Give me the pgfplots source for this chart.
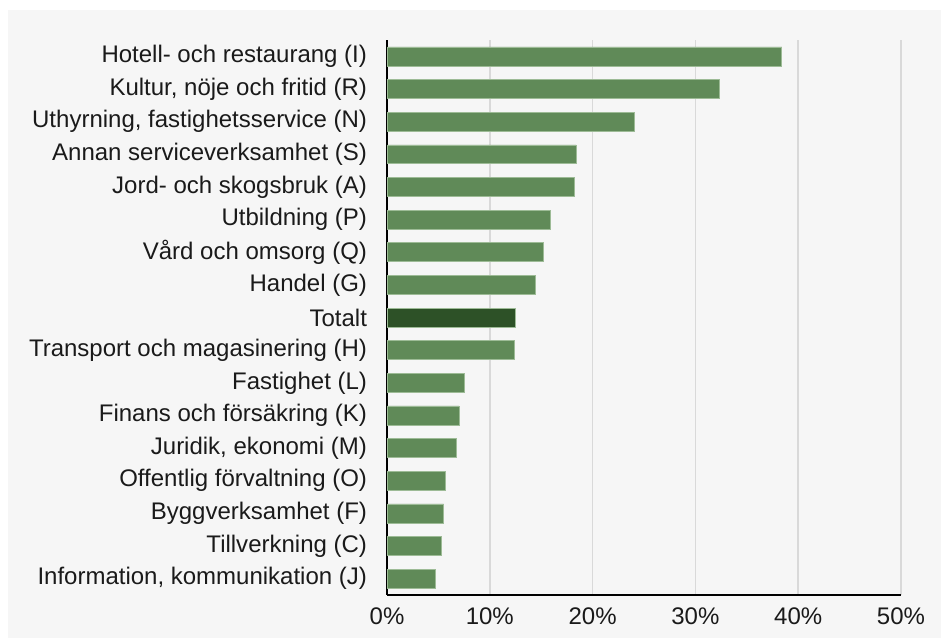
\documentclass[border=0pt]{standalone}
\usepackage{fontspec}
\setmainfont{Liberation Sans}
\usepackage{pgfplots}
\pgfplotsset{compat=1.18}
\definecolor{bgcol}{HTML}{F6F6F6}
\definecolor{barcol}{HTML}{608A58}
\definecolor{totcol}{HTML}{2D5127}
\definecolor{gridcol}{HTML}{D9D9D9}
\definecolor{txtcol}{HTML}{1A1A1A}
\definecolor{edgecol}{HTML}{9DBB96}
\begin{document}
\begin{tikzpicture}
\fill[white] (0,0) rectangle (705.75pt,478.5pt);
\fill[bgcol] (6pt,0) rectangle (705.75pt,471pt);
\begin{axis}[
  at={(290.25pt,32.25pt)}, anchor=south west,
  scale only axis, width=385.5pt, height=416.25pt,
  xbar, bar width=0.58, bar shift=0pt,
  xmin=0, xmax=50, ymin=-0.5, ymax=16.5, y dir=reverse,
  xtick={0,10,...,50},
  xticklabel={\pgfmathprintnumber{\tick}\%},
  /pgf/number format/assume math mode=true,
  ytick={0,...,16},
  yticklabels={Hotell- och restaurang (I),{Kultur, nöje och fritid (R)},{Uthyrning, fastighetsservice (N)},Annan serviceverksamhet (S),Jord- och skogsbruk (A),Utbildning (P),Vård och omsorg (Q),Handel (G),Totalt,Transport och magasinering (H),Fastighet (L),Finans och försäkring (K),{Juridik, ekonomi (M)},Offentlig förvaltning (O),Byggverksamhet (F),Tillverkning (C),{Information, kommunikation (J)}},
  major tick length=0pt,
  axis x line*=bottom, axis y line*=left,
  axis line style={-, black, line width=0.9pt},
  xmajorgrids, major grid style={gridcol, line width=1.2pt},
  ticklabel style={font=\fontsize{18}{21}\selectfont, text=txtcol},
  yticklabel style={xshift=-11.5pt},
  xticklabel style={yshift=-6pt},
  clip=false,
]
\addplot[fill=barcol, draw=edgecol, line width=0.4pt] coordinates {
(38.4,0) (32.3,1) (24.1,2) (18.4,3) (18.2,4) (15.9,5) (15.2,6) (14.4,7)
(12.4,9) (7.5,10) (7.0,11) (6.7,12) (5.7,13) (5.5,14) (5.3,15) (4.7,16)};
\addplot[fill=totcol, draw=edgecol, line width=0.4pt] coordinates {(12.5,8)};
\end{axis}
\end{tikzpicture}
\end{document}
